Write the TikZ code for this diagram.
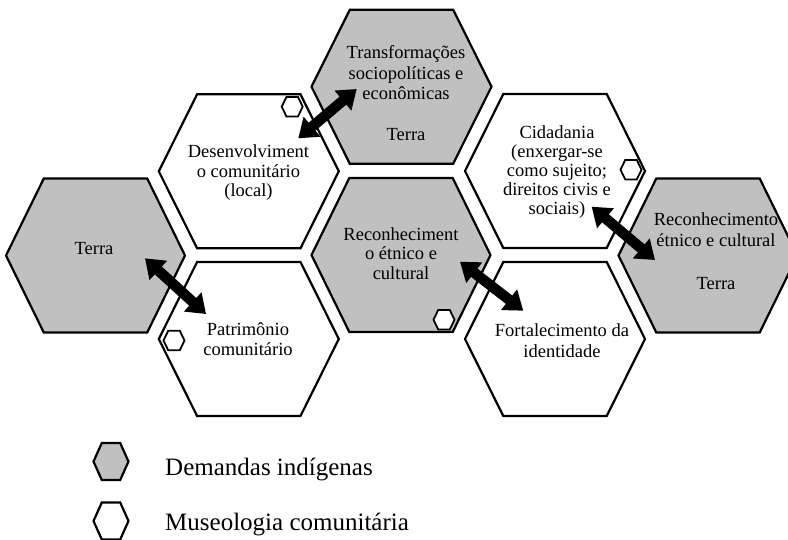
\documentclass[tikz,border=0pt]{standalone}
\usepackage{fontspec}
\setmainfont{Liberation Serif}
\usetikzlibrary{arrows.meta}
\definecolor{hexgray}{RGB}{192,192,192}
\newcommand{\myhex}[6]{\draw[#1,shift={(#2,#3)}] (-#4,0) -- (-#5,-#6) -- (#5,-#6) -- (#4,0) -- (#5,#6) -- (-#5,#6) -- cycle;}
\begin{document}
\begin{tikzpicture}[x=1pt,y=-1pt,
  demand/.style={draw=black,line width=2.2pt,line join=miter,fill=hexgray},
  museo/.style={draw=black,line width=2.2pt,line join=miter,fill=white},
  smallhex/.style={draw=black,line width=1.8pt,line join=miter,fill=white},
  legdemand/.style={draw=black,line width=2.2pt,line join=miter,fill=hexgray},
  legmuseo/.style={draw=black,line width=2.2pt,line join=miter,fill=white},
  hextext/.style={align=center,inner sep=0pt,font=\fontsize{18.5}{19.5}\selectfont},
  legtext/.style={inner sep=0pt,anchor=base west,font=\fontsize{25}{28}\selectfont},
  bigarrow/.style={line width=10.5pt,{Triangle[width=25pt,length=18pt]}-{Triangle[width=25pt,length=18pt]}}]
\useasboundingbox (0,0) rectangle (788,539);
\clip (0,0) rectangle (788,539);
% big hexagons
\myhex{demand}{95.5}{255.5}{89.5}{51.7}{77}
\myhex{museo}{248.8}{171.3}{90}{51.7}{77}
\myhex{museo}{248.8}{339}{90}{51.7}{77}
\myhex{demand}{401.5}{86.7}{90}{51.7}{77}
\myhex{demand}{401}{255}{89.5}{51.7}{77}
\myhex{museo}{555}{171}{90}{51.7}{77}
\myhex{museo}{555}{339}{90}{51.7}{77}
\myhex{demand}{708}{255.5}{89.5}{51.7}{77}
% small hexagons
\myhex{smallhex}{292.2}{106.7}{10.5}{5.8}{9.7}
\myhex{smallhex}{174}{340.5}{10.5}{5.8}{9.7}
\myhex{smallhex}{631}{169.7}{10.5}{5.8}{9.7}
\myhex{smallhex}{444}{319.7}{10.5}{5.8}{9.7}
% texts
\node[hextext] (terraL) at (94,248.8) {Terra};
\node[hextext] (desenv) at (248.5,173) {Desenvolviment\\o comunitário\\(local)};
\node[hextext] (patrim) at (248,339.3) {Patrimônio\\comunitário};
\node[hextext,font=\fontsize{18.5}{20.3}\selectfont] (transf) at (406,93) {Transformações\\sociopolíticas e\\econômicas\\[20.3pt]Terra};
\node[hextext] (reconM) at (401,253.5) {Reconheciment\\o étnico e\\cultural};
\node[hextext,font=\fontsize{18.5}{19}\selectfont] (cidad) at (557,172) {Cidadania\\(enxergar-se\\como sujeito;\\direitos civis e\\sociais)};
\node[hextext,font=\fontsize{18.5}{21}\selectfont] (fortal) at (562,341) {Fortalecimento da\\identidade};
\node[hextext,font=\fontsize{18.5}{21.5}\selectfont] (reconR) at (716,251) {Reconhecimento\\étnico e cultural\\[21.5pt]Terra};
% arrows
\coordinate (a1s) at (298.3,138.3); \coordinate (a1e) at (356.7,89);
\coordinate (a2s) at (145,258.3);   \coordinate (a2e) at (206,314);
\coordinate (a3s) at (460,261.7);   \coordinate (a3e) at (523.3,310.7);
\coordinate (a4s) at (591.7,206.7); \coordinate (a4e) at (655,260);
\draw[bigarrow] (a1s) -- (a1e);
\draw[bigarrow] (a2s) -- (a2e);
\draw[bigarrow] (a3s) -- (a3e);
\draw[bigarrow] (a4s) -- (a4e);
% legend
\myhex{legdemand}{111}{461.5}{17.5}{9.2}{18.5}
\myhex{legmuseo}{111}{521}{17.5}{9.2}{18.5}
\node[legtext] (legd) at (165,475) {Demandas indígenas};
\node[legtext] (legm) at (165,530) {Museologia comunitária};
\end{tikzpicture}
\end{document}
